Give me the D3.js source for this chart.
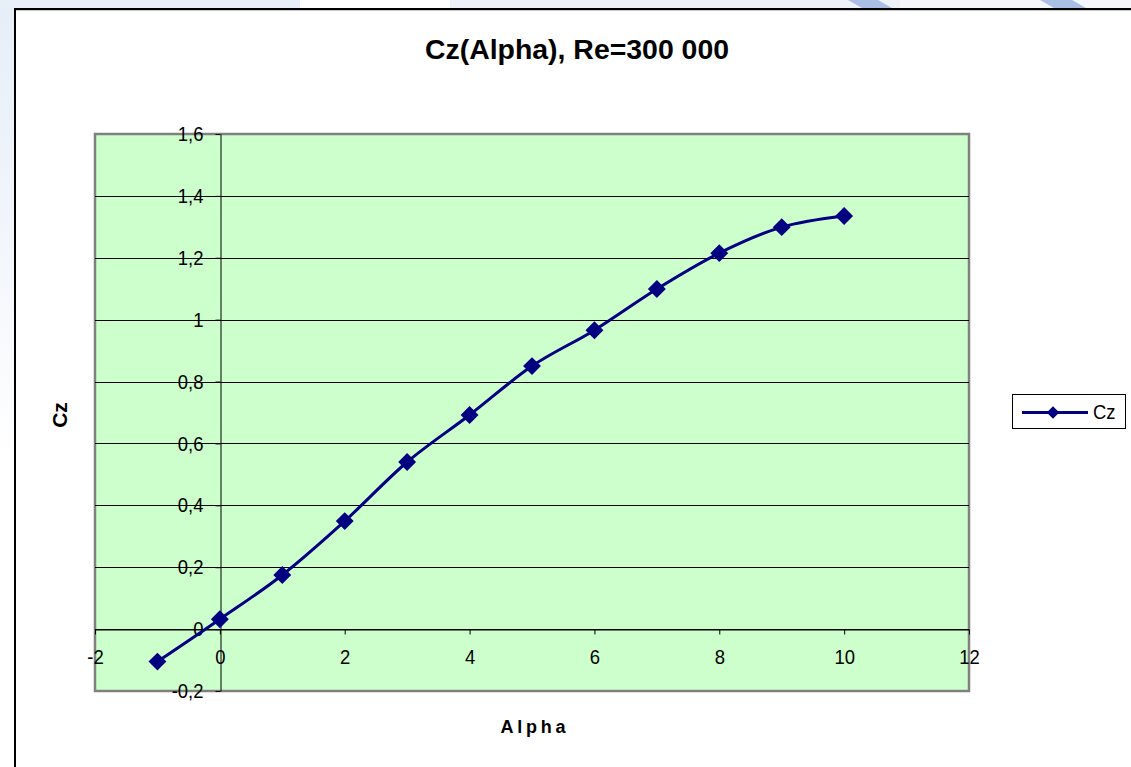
<!DOCTYPE html>
<html>
<head>
<meta charset="utf-8">
<script src="https://cdn.jsdelivr.net/npm/d3@7"></script>
<style>
  html, body { margin: 0; padding: 0; background: #fff; }
  svg { display: block; font-family: "Liberation Sans", Arial, sans-serif; }
</style>
</head>
<body>
<svg id="chart" width="1131" height="767"></svg>
<script>
// Lift coefficient vs angle of attack
const alpha = [-1, 0, 1, 2, 3, 4, 5, 6, 7, 8, 9, 10];
const cz = [-0.105, 0.032, 0.175, 0.349, 0.54, 0.692, 0.85, 0.966, 1.099, 1.215, 1.299, 1.335];
const xTicks = [-2, 0, 2, 4, 6, 8, 10, 12];
const yTicks = [-0.2, 0, 0.2, 0.4, 0.6, 0.8, 1, 1.2, 1.4, 1.6];
const seriesName = "Cz";
const title = "Cz(Alpha), Re=300 000";

const FONT = "'Liberation Sans', Arial, sans-serif";
const svg = d3.select("#chart");
const W = 1131, H = 767;

// narrows text glyphs horizontally so labels read tall and tight
function squeeze(sel, k) {
  sel.each(function () {
    const w = this.getComputedTextLength();
    d3.select(this).attr("textLength", w * k).attr("lengthAdjust", "spacingAndGlyphs");
  });
}

// page backdrop outside the chart frame
const defs = svg.append("defs");
const gl = defs.append("linearGradient").attr("id", "leftFade").attr("x1", 0).attr("y1", 0).attr("x2", 0).attr("y2", 1);
gl.append("stop").attr("offset", "0").attr("stop-color", "#e6eef8");
gl.append("stop").attr("offset", "0.35").attr("stop-color", "#f4f7fc");
gl.append("stop").attr("offset", "0.6").attr("stop-color", "#ffffff");
svg.append("rect").attr("x", 0).attr("y", 0).attr("width", 15).attr("height", H).attr("fill", "url(#leftFade)");
svg.append("rect").attr("x", 0).attr("y", 0).attr("width", 300).attr("height", 8).attr("fill", "#e8eff9");
svg.append("rect").attr("x", 450).attr("y", 0).attr("width", 450).attr("height", 8).attr("fill", "#edf2fa");
svg.append("rect").attr("x", 900).attr("y", 0).attr("width", 231).attr("height", 8).attr("fill", "#f3f6fb");
[[848, 878], [1040, 1072]].forEach(([a, b]) => {
  svg.append("polygon")
    .attr("points", `${a},0 ${b},0 ${b + 14},8 ${a + 14},8`)
    .attr("fill", "#a9bfe3");
});

// chart frame
svg.append("rect").attr("x", 15).attr("y", 9).attr("width", W).attr("height", H)
  .attr("fill", "#fff").attr("stroke", "none");
svg.append("line").attr("x1", 15).attr("x2", W).attr("y1", 9).attr("y2", 9).attr("stroke", "#000").attr("stroke-width", 2);
svg.append("line").attr("x1", 15).attr("x2", W).attr("y1", 10.5).attr("y2", 10.5).attr("stroke", "#c8c8c8").attr("stroke-width", 1);
svg.append("line").attr("x1", 15).attr("x2", 15).attr("y1", 8).attr("y2", H).attr("stroke", "#000").attr("stroke-width", 2);

// plot area
const P = { left: 95, right: 969, top: 134, bottom: 691 };
const x = d3.scaleLinear().domain([-2, 12]).range([P.left, P.right]);
const y = d3.scaleLinear().domain([-0.2, 1.6]).range([P.bottom, P.top]);

svg.append("rect")
  .attr("x", P.left).attr("y", P.top)
  .attr("width", P.right - P.left).attr("height", P.bottom - P.top)
  .attr("fill", "#ccffcc").attr("stroke", "#808080").attr("stroke-width", 2.5);

// horizontal gridlines
svg.append("g").selectAll("line")
  .data(yTicks.filter(v => v > -0.2 && v < 1.6))
  .join("line")
  .attr("x1", P.left).attr("x2", P.right)
  .attr("y1", d => Math.round(y(d)) + 0.5).attr("y2", d => Math.round(y(d)) + 0.5)
  .attr("stroke", "#000").attr("stroke-width", 1);

const fmt = d => String(Math.round(d * 10) / 10).replace(".", ",");

// y axis crossing at alpha = 0
const yAxis = d3.axisLeft(y).tickValues(yTicks).tickSize(5).tickSizeOuter(0).tickPadding(12)
  .tickFormat(fmt);
const gy = svg.append("g").attr("transform", `translate(${Math.round(x(0)) + 0.5},0)`).call(yAxis);
gy.attr("font-size", 20.5).attr("font-family", FONT);
gy.select(".domain").attr("stroke", "#000");
gy.selectAll(".tick line").attr("stroke", "#000");
gy.selectAll(".tick text").attr("fill", "#000").call(squeeze, 0.9);

// x axis crossing at Cz = 0
const xAxis = d3.axisBottom(x).tickValues(xTicks).tickSize(5).tickSizeOuter(0).tickPadding(15)
  .tickFormat(d => String(d));
const gx = svg.append("g").attr("transform", `translate(0,${Math.round(y(0)) + 0.5})`).call(xAxis);
gx.attr("font-size", 20.5).attr("font-family", FONT);
gx.select(".domain").attr("stroke", "#000");
gx.selectAll(".tick line").attr("stroke", "#000");
gx.selectAll(".tick text").attr("fill", "#000").call(squeeze, 0.9);

// series line (smoothed) and diamond markers
const pts = alpha.map((a, i) => [a, cz[i]]);
const line = d3.line().x(d => x(d[0])).y(d => y(d[1])).curve(d3.curveCardinal.tension(0));
svg.append("path").datum(pts).attr("d", line)
  .attr("fill", "none").attr("stroke", "#000080").attr("stroke-width", 3);

const diamond = d3.symbol().type(d3.symbolSquare).size(160);
svg.append("g").selectAll("path").data(pts).join("path")
  .attr("d", diamond)
  .attr("transform", d => `translate(${x(d[0])},${y(d[1])}) rotate(45)`)
  .attr("fill", "#000080");

// title and axis titles
svg.append("text").attr("x", 577).attr("y", 59).attr("text-anchor", "middle")
  .attr("font-family", FONT).attr("font-size", 27).attr("font-weight", "bold").attr("fill", "#000")
  .attr("textLength", 304).attr("lengthAdjust", "spacingAndGlyphs")
  .text(title);

svg.append("text").attr("x", 533).attr("y", 733).attr("text-anchor", "middle")
  .attr("font-family", FONT).attr("font-size", 18).attr("font-weight", "bold").attr("fill", "#000")
  .attr("textLength", 65).attr("lengthAdjust", "spacing")
  .text("Alpha");

svg.append("text").attr("transform", "translate(67,415) rotate(-90)").attr("text-anchor", "middle")
  .attr("font-family", FONT).attr("font-size", 21).attr("font-weight", "bold").attr("fill", "#000")
  .text("Cz");

// legend
const lg = svg.append("g");
lg.append("rect").attr("x", 1012.5).attr("y", 394.5).attr("width", 113).attr("height", 34)
  .attr("fill", "#fff").attr("stroke", "#000").attr("stroke-width", 1);
lg.append("line").attr("x1", 1022).attr("x2", 1088).attr("y1", 412.5).attr("y2", 412.5)
  .attr("stroke", "#000080").attr("stroke-width", 2.8);
lg.append("path").attr("d", d3.symbol().type(d3.symbolSquare).size(78))
  .attr("transform", "translate(1053,412.5) rotate(45)").attr("fill", "#000080");
lg.append("text").attr("x", 1093).attr("y", 419).attr("font-family", FONT).attr("font-size", 20).attr("fill", "#000")
  .text(seriesName)
  .call(squeeze, 0.92);
</script>
</body>
</html>
